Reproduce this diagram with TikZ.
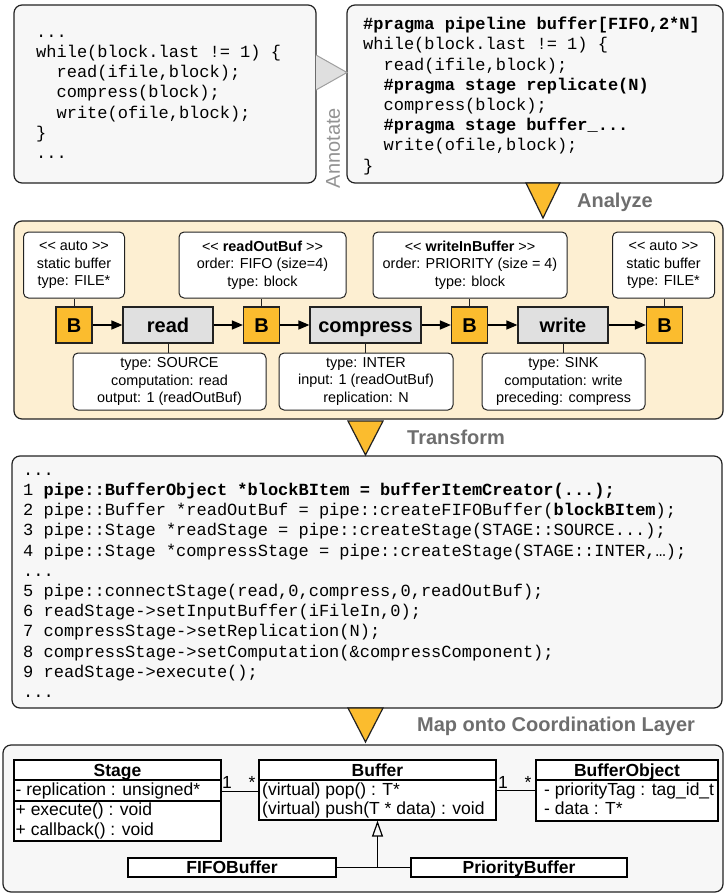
\documentclass[tikz,border=0pt]{standalone}
\usepackage{fontspec}
\setmainfont{Liberation Sans}
\newfontfamily\codefont{Liberation Mono}
\usetikzlibrary{arrows.meta}
\definecolor{panelbg}{HTML}{FDEFD2}
\definecolor{boxbg}{HTML}{F7F7F7}
\definecolor{borange}{HTML}{FBBC2E}
\definecolor{stagegray}{HTML}{E0E0E0}
\definecolor{labelgray}{HTML}{6E6E6E}
\definecolor{edgedark}{HTML}{222222}
\newcommand\mystereo[1]{<\kern0pt< #1 >\kern0pt>}
\newcommand\ind{\phantom{xx}}
\newcommand\topstrut{\rule{0pt}{16pt}}
\begin{document}
\begin{tikzpicture}[x=1pt,y=-1pt,
  codebox/.style={draw=edgedark, fill=boxbg, rounded corners=8pt, line width=1.2pt, inner sep=0pt},
  codetext/.style={font=\fontsize{17}{20.2}\selectfont\codefont, align=left, inner sep=0pt, anchor=north west},
  panelbox/.style={draw=edgedark, fill=panelbg, rounded corners=8pt, line width=1.2pt, inner sep=0pt},
  infobox/.style={draw=edgedark, fill=white, rounded corners=5pt, line width=1pt, inner sep=0pt, align=center, font=\fontsize{14.4}{17.3}\selectfont},
  bufbox/.style={draw=edgedark, fill=borange, line width=1.2pt, minimum width=36pt, minimum height=36pt, inner sep=0pt, font=\fontsize{20}{24}\selectfont\bfseries, text height=14.5pt, text depth=0pt},
  stagebox/.style={draw=edgedark, fill=stagegray, line width=1.2pt, minimum height=36pt, inner sep=0pt, font=\fontsize{20}{24}\selectfont\bfseries, text height=14.5pt, text depth=0pt},
  flow/.style={-{Triangle[length=11pt,width=9pt]}, line width=1.5pt, draw=black},
  tie/.style={line width=1pt, draw=edgedark},
  tri/.style={draw=edgedark, fill=borange, line width=1.2pt, line join=miter},
  lab/.style={font=\fontsize{20}{24}\selectfont\bfseries, text=labelgray, inner sep=0pt, anchor=west},
  umlbox/.style={draw=black, fill=white, line width=1.2pt, inner sep=0pt},
  umlhead/.style={font=\fontsize{17.5}{20}\selectfont\bfseries, inner sep=0pt, text height=12.5pt, text depth=0pt},
  umltext/.style={font=\fontsize{17.5}{20}\selectfont, inner sep=0pt, anchor=west, text height=12.5pt, text depth=3.5pt},
  mult/.style={font=\fontsize{17.5}{20}\selectfont, inner sep=0pt, anchor=base}
]
\useasboundingbox (0,0) rectangle (725,894);

% ---------- top: source and annotated code ----------
\node[codebox, minimum width=302pt, minimum height=178pt] (src) at (165,94) {};
\node[codetext] (srccode) at (36,21) {\topstrut...\\while(block.last != 1) \{\\\ind read(ifile,block);\\\ind compress(block);\\\ind write(ofile,block);\\\}\\...};

\node[codebox, minimum width=376pt, minimum height=178pt] (ann) at (535,94) {};
\node[codetext] (anncode) at (363,13.5) {\topstrut\textbf{\#pragma pipeline buffer[FIFO,2*N]}\\while(block.last != 1) \{\\\ind read(ifile,block);\\\ind \textbf{\#pragma stage replicate(N)}\\\ind compress(block);\\\ind \textbf{\#pragma stage buffer\_...}\\\ind write(ofile,block);\\\}};

\draw[draw=gray!75, fill=gray!25, line width=1pt, line join=miter] (316,55) -- (347,72.5) -- (316,90);
\node[rotate=90, font=\fontsize{20}{24}\selectfont, text=gray!85, inner sep=0pt] (annot) at (333,148) {Annotate};

% ---------- analyze panel ----------
\node[panelbox, minimum width=709pt, minimum height=198pt] (panel) at (368.5,320) {};
\draw[tri] (526,183) -- (560,183) -- (543,218) -- cycle;
\node[lab] (lanalyze) at (577,202) {Analyze};

\node[infobox, minimum width=101pt, minimum height=66pt] (auto1) at (74,265) {\mystereo{auto}\\static buffer\\type: FILE*};
\node[infobox, minimum width=167pt, minimum height=66pt] (rob) at (262.5,265) {\mystereo{\textbf{readOutBuf}}\\order: FIFO (size=4)\\type: block};
\node[infobox, minimum width=194pt, minimum height=66pt] (wib) at (470,265) {\mystereo{\textbf{writeInBuffer}}\\order: PRIORITY (size = 4)\\type: block};
\node[infobox, minimum width=102pt, minimum height=66pt] (auto2) at (663.5,265) {\mystereo{auto}\\static buffer\\type: FILE*};

\node[bufbox] (b1) at (74,325) {B};
\node[stagebox, minimum width=90pt] (sread) at (168,325) {read};
\node[bufbox] (b2) at (261.5,325) {B};
\node[stagebox, minimum width=111pt] (scomp) at (365.5,325) {compress};
\node[bufbox] (b3) at (469.5,325) {B};
\node[stagebox, minimum width=90pt] (swrite) at (563,325) {write};
\node[bufbox] (b4) at (664.5,325) {B};

\draw[flow] (b1) -- (sread);
\draw[flow] (sread) -- (b2);
\draw[flow] (b2) -- (scomp);
\draw[flow] (scomp) -- (b3);
\draw[flow] (b3) -- (swrite);
\draw[flow] (swrite) -- (b4);

\node[infobox, minimum width=193pt, minimum height=57pt] (iread) at (169.5,381.5) {type: SOURCE\\computation: read\\output: 1 (readOutBuf)};
\node[infobox, minimum width=174pt, minimum height=57pt] (icomp) at (366,381.5) {type: INTER\\input: 1 (readOutBuf)\\replication: N};
\node[infobox, minimum width=163pt, minimum height=57pt] (iwrite) at (563.5,381.5) {type: SINK\\computation: write\\preceding: compress};

\draw[tie] (b1.north) -- (b1.north |- auto1.south);
\draw[tie] (b2.north) -- (b2.north |- rob.south);
\draw[tie] (b3.north) -- (b3.north |- wib.south);
\draw[tie] (b4.north) -- (b4.north |- auto2.south);
\draw[tie] (sread.south) -- (sread.south |- iread.north);
\draw[tie] (scomp.south) -- (scomp.south |- icomp.north);
\draw[tie] (swrite.south) -- (swrite.south |- iwrite.north);

% ---------- transform ----------
\node[codebox, minimum width=710pt, minimum height=252pt] (gen) at (367,582) {};
\node[codetext] (gencode) at (23,459) {\topstrut...\\1 \textbf{pipe::BufferObject *blockBItem = bufferItemCreator(...);}\\2 pipe::Buffer *readOutBuf = pipe::createFIFOBuffer(\textbf{blockBItem});\\3 pipe::Stage *readStage = pipe::createStage(STAGE::SOURCE...);\\4 pipe::Stage *compressStage = pipe::createStage(STAGE::INTER,…);\\...\\5 pipe::connectStage(read,0,compress,0,readOutBuf);\\6 readStage->setInputBuffer(iFileIn,0);\\7 compressStage->setReplication(N);\\8 compressStage->setComputation(\&compressComponent);\\9 readStage->execute();\\...};
\draw[tri] (348,421) -- (383,421) -- (365.5,455) -- cycle;
\node[lab] (ltransform) at (407,437) {Transform};

% ---------- coordination layer ----------
\node[codebox, minimum width=720pt, minimum height=147pt] (uml) at (363,818.5) {};
\draw[tri] (348,708) -- (383,708) -- (365.5,742) -- cycle;
\node[lab] (lmap) at (417,726) {Map onto Coordination Layer};

\node[umlbox, minimum width=207pt, minimum height=81pt] (cstage) at (117.5,800.5) {};
\node[umlhead] (hstage) at (117.5,770) {Stage};
\draw[line width=1.2pt] (cstage.west |- 0,780) -- (cstage.east |- 0,780);
\draw[line width=1.2pt] (cstage.west |- 0,801) -- (cstage.east |- 0,801);
\node[umltext] (tstage1) at (15.5,791) {- replication : unsigned*};
\node[umltext] (tstage2) at (15.5,811) {+ execute() : void};
\node[umltext] (tstage3) at (15.5,831) {+ callback() : void};

\node[umlbox, minimum width=237pt, minimum height=60pt] (cbuf) at (377.5,790) {};
\node[umlhead] (hbuf) at (377.5,770) {Buffer};
\draw[line width=1.2pt] (cbuf.west |- 0,780) -- (cbuf.east |- 0,780);
\node[umltext] (tbuf1) at (262,790.5) {(virtual) pop() : T*};
\node[umltext] (tbuf2) at (262,809.5) {(virtual) push(T * data) : void};

\node[umlbox, minimum width=182pt, minimum height=61pt] (cbo) at (627,790.5) {};
\node[umlhead] (hbo) at (627,770) {BufferObject};
\draw[line width=1.2pt] (cbo.west |- 0,780) -- (cbo.east |- 0,780);
\node[umltext] (tbo1) at (544,791) {- priorityTag : tag\_id\_t};
\node[umltext] (tbo2) at (544,810) {- data : T*};

\node[umlbox, minimum width=208pt, minimum height=19pt, umlhead] (cfifo) at (232,867.5) {FIFOBuffer};
\node[umlbox, minimum width=216pt, minimum height=19pt, umlhead] (cprio) at (519,867.5) {PriorityBuffer};

\draw[line width=1pt] (cstage.east |- 0,791) -- (cbuf.west |- 0,791);
\node[mult] (m1) at (227,788.5) {1};
\node[mult] (m2) at (252,788.5) {*};
\draw[line width=1pt] (cbuf.east |- 0,790) -- (cbo.west |- 0,790);
\node[mult] (m3) at (503,788.5) {1};
\node[mult] (m4) at (528,788.5) {*};

\coordinate (join) at (377.5,867.5);
\draw[line width=1.2pt] (cfifo.east) -- (cprio.west);
\draw[line width=1.2pt, -{Triangle[open, length=16pt, width=11pt, line width=1.2pt]}] (join) -- (cbuf.south);
\end{tikzpicture}
\end{document}
